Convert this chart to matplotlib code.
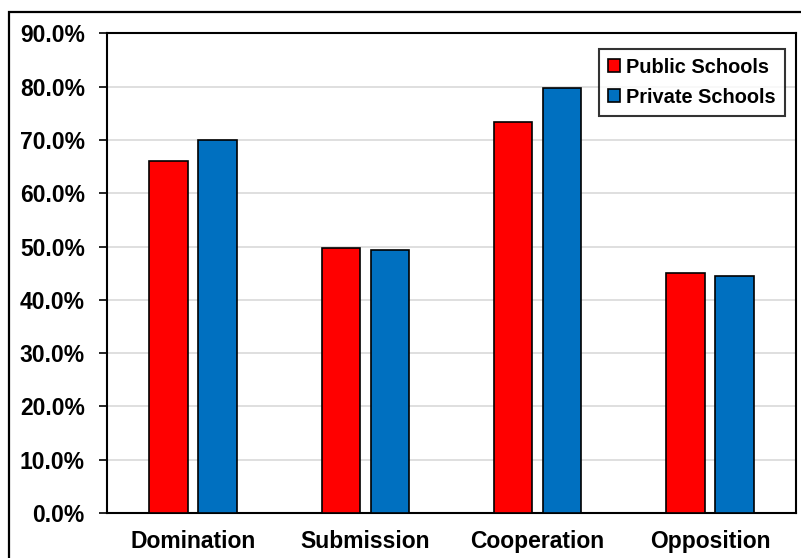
import matplotlib.pyplot as plt
import matplotlib.patches as mpatches
import numpy as np

categories = ["Domination", "Submission", "Cooperation", "Opposition"]
public_schools = [66.0, 49.7, 73.4, 45.0]
private_schools = [70.1, 49.4, 79.7, 44.5]
y_ticks = [0, 10, 20, 30, 40, 50, 60, 70, 80, 90]

plt.rcParams['font.family'] = ['Liberation Sans', 'DejaVu Sans']
plt.rcParams['font.weight'] = 'bold'

fig = plt.figure(figsize=(8.01, 5.58), dpi=100)
ax = fig.add_axes([0.1336, 0.0806, 0.8602, 0.8594])

# outer chart border (runs off the right and bottom edges)
fig.patches.append(mpatches.Rectangle((0.0112, -0.05), 1.05, 0.9785 + 0.05,
                                      transform=fig.transFigure, fill=False,
                                      edgecolor='black', linewidth=1.6))

x = np.arange(len(categories))
w = 0.224
ax.bar(x - 0.142, public_schools, w, color='#FF0000', edgecolor='black',
       linewidth=1.2, label='Public Schools', zorder=3)
ax.bar(x + 0.142, private_schools, w, color='#0070C0', edgecolor='black',
       linewidth=1.2, label='Private Schools', zorder=3)

ax.set_xlim(-0.5, len(categories) - 0.5)
ax.set_ylim(0, 90)
ax.set_yticks(y_ticks)
ax.set_yticklabels([f"{v:.1f}%" for v in y_ticks], fontsize=16.5, fontweight='bold')
ax.set_xticks(x)
ax.set_xticklabels(categories, fontsize=16.5, fontweight='bold')
ax.tick_params(axis='x', length=0, pad=12.5)
ax.tick_params(axis='y', length=6, width=1.2, pad=10)
ax.grid(axis='y', color='#D9D9D9', linewidth=1.2, zorder=0)
for s in ax.spines.values():
    s.set_linewidth(1.5)

leg = ax.legend(loc='upper right', bbox_to_anchor=(0.9835, 0.968),
                prop={'weight': 'bold', 'size': 14.4}, frameon=True, fancybox=False,
                handlelength=0.6, handleheight=0.6, handletextpad=0.3,
                borderpad=0.45, labelspacing=0.55, borderaxespad=0)
leg.get_frame().set_edgecolor('black')
leg.get_frame().set_linewidth(1.5)

fig.savefig("out.png", dpi=100)
